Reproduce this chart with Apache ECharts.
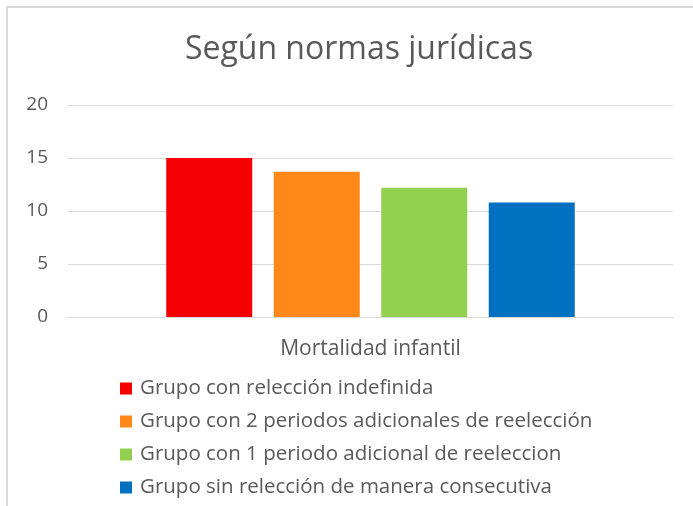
<!DOCTYPE html>
<html>
<head>
<meta charset="utf-8">
<script src="https://cdn.jsdelivr.net/npm/echarts@6/dist/echarts.min.js"></script>
<style>
  html, body { margin: 0; padding: 0; background: #fff; }
  #frame {
    position: absolute; left: 6px; top: 6px; right: 0; bottom: 0;
    border-top: 2px solid #d9d9d9; border-left: 2px solid #d9d9d9;
  }
  #chart { position: absolute; left: 0; top: 0; width: 693px; height: 506px; }
</style>
</head>
<body>
<div id="frame"></div>
<div id="chart"></div>
<script>
// datos
const categories = ['Mortalidad infantil'];
const groupNames = [
  'Grupo con relección indefinida',
  'Grupo con 2 periodos adicionales de reelección',
  'Grupo con 1 periodo adicional de reeleccion',
  'Grupo sin relección de manera consecutiva'
];
const groupValues = [15, 13.7, 12.2, 10.8];
const groupColors = ['#f40000', '#ff8819', '#92d050', '#0070c0'];
const yTicks = [0, 5, 10, 15, 20];

const textColor = '#595959';
const chart = echarts.init(document.getElementById('chart'));

chart.setOption({
  animation: false,
  title: {
    text: 'Según normas jurídicas',
    left: 354,
    textAlign: 'center',
    top: 29,
    textStyle: {
      fontFamily: 'Open Sans',
      fontSize: 32,
      fontWeight: 'normal',
      color: textColor
    }
  },
  grid: {
    left: 68,
    right: 20,
    top: 105,
    bottom: 189,
    containLabel: false
  },
  legend: {
    orient: 'vertical',
    left: 120,
    top: 378,
    padding: 0,
    itemWidth: 12,
    itemHeight: 12,
    itemGap: 12,
    icon: 'rect',
    data: groupNames,
    textStyle: {
      fontFamily: 'Open Sans',
      fontSize: 20.5,
      lineHeight: 20,
      color: textColor,
      padding: [0, 0, 0, 3]
    }
  },
  xAxis: {
    type: 'category',
    data: categories,
    axisTick: { show: false },
    axisLine: { lineStyle: { color: '#d9d9d9', width: 1 } },
    axisLabel: {
      margin: 22,
      fontFamily: 'Open Sans',
      fontSize: 21,
      color: textColor
    }
  },
  yAxis: {
    type: 'value',
    min: yTicks[0],
    max: yTicks[yTicks.length - 1],
    interval: 5,
    axisLine: { show: false },
    axisTick: { show: false },
    splitLine: { lineStyle: { color: '#d9d9d9', width: 1 } },
    axisLabel: {
      margin: 20,
      fontFamily: 'Open Sans',
      fontSize: 19,
      color: textColor
    }
  },
  series: groupNames.map((name, i) => ({
    name: name,
    type: 'bar',
    data: [groupValues[i]],
    barWidth: 86,
    barGap: '25%',
    itemStyle: { color: groupColors[i] }
  }))
});
</script>
</body>
</html>
